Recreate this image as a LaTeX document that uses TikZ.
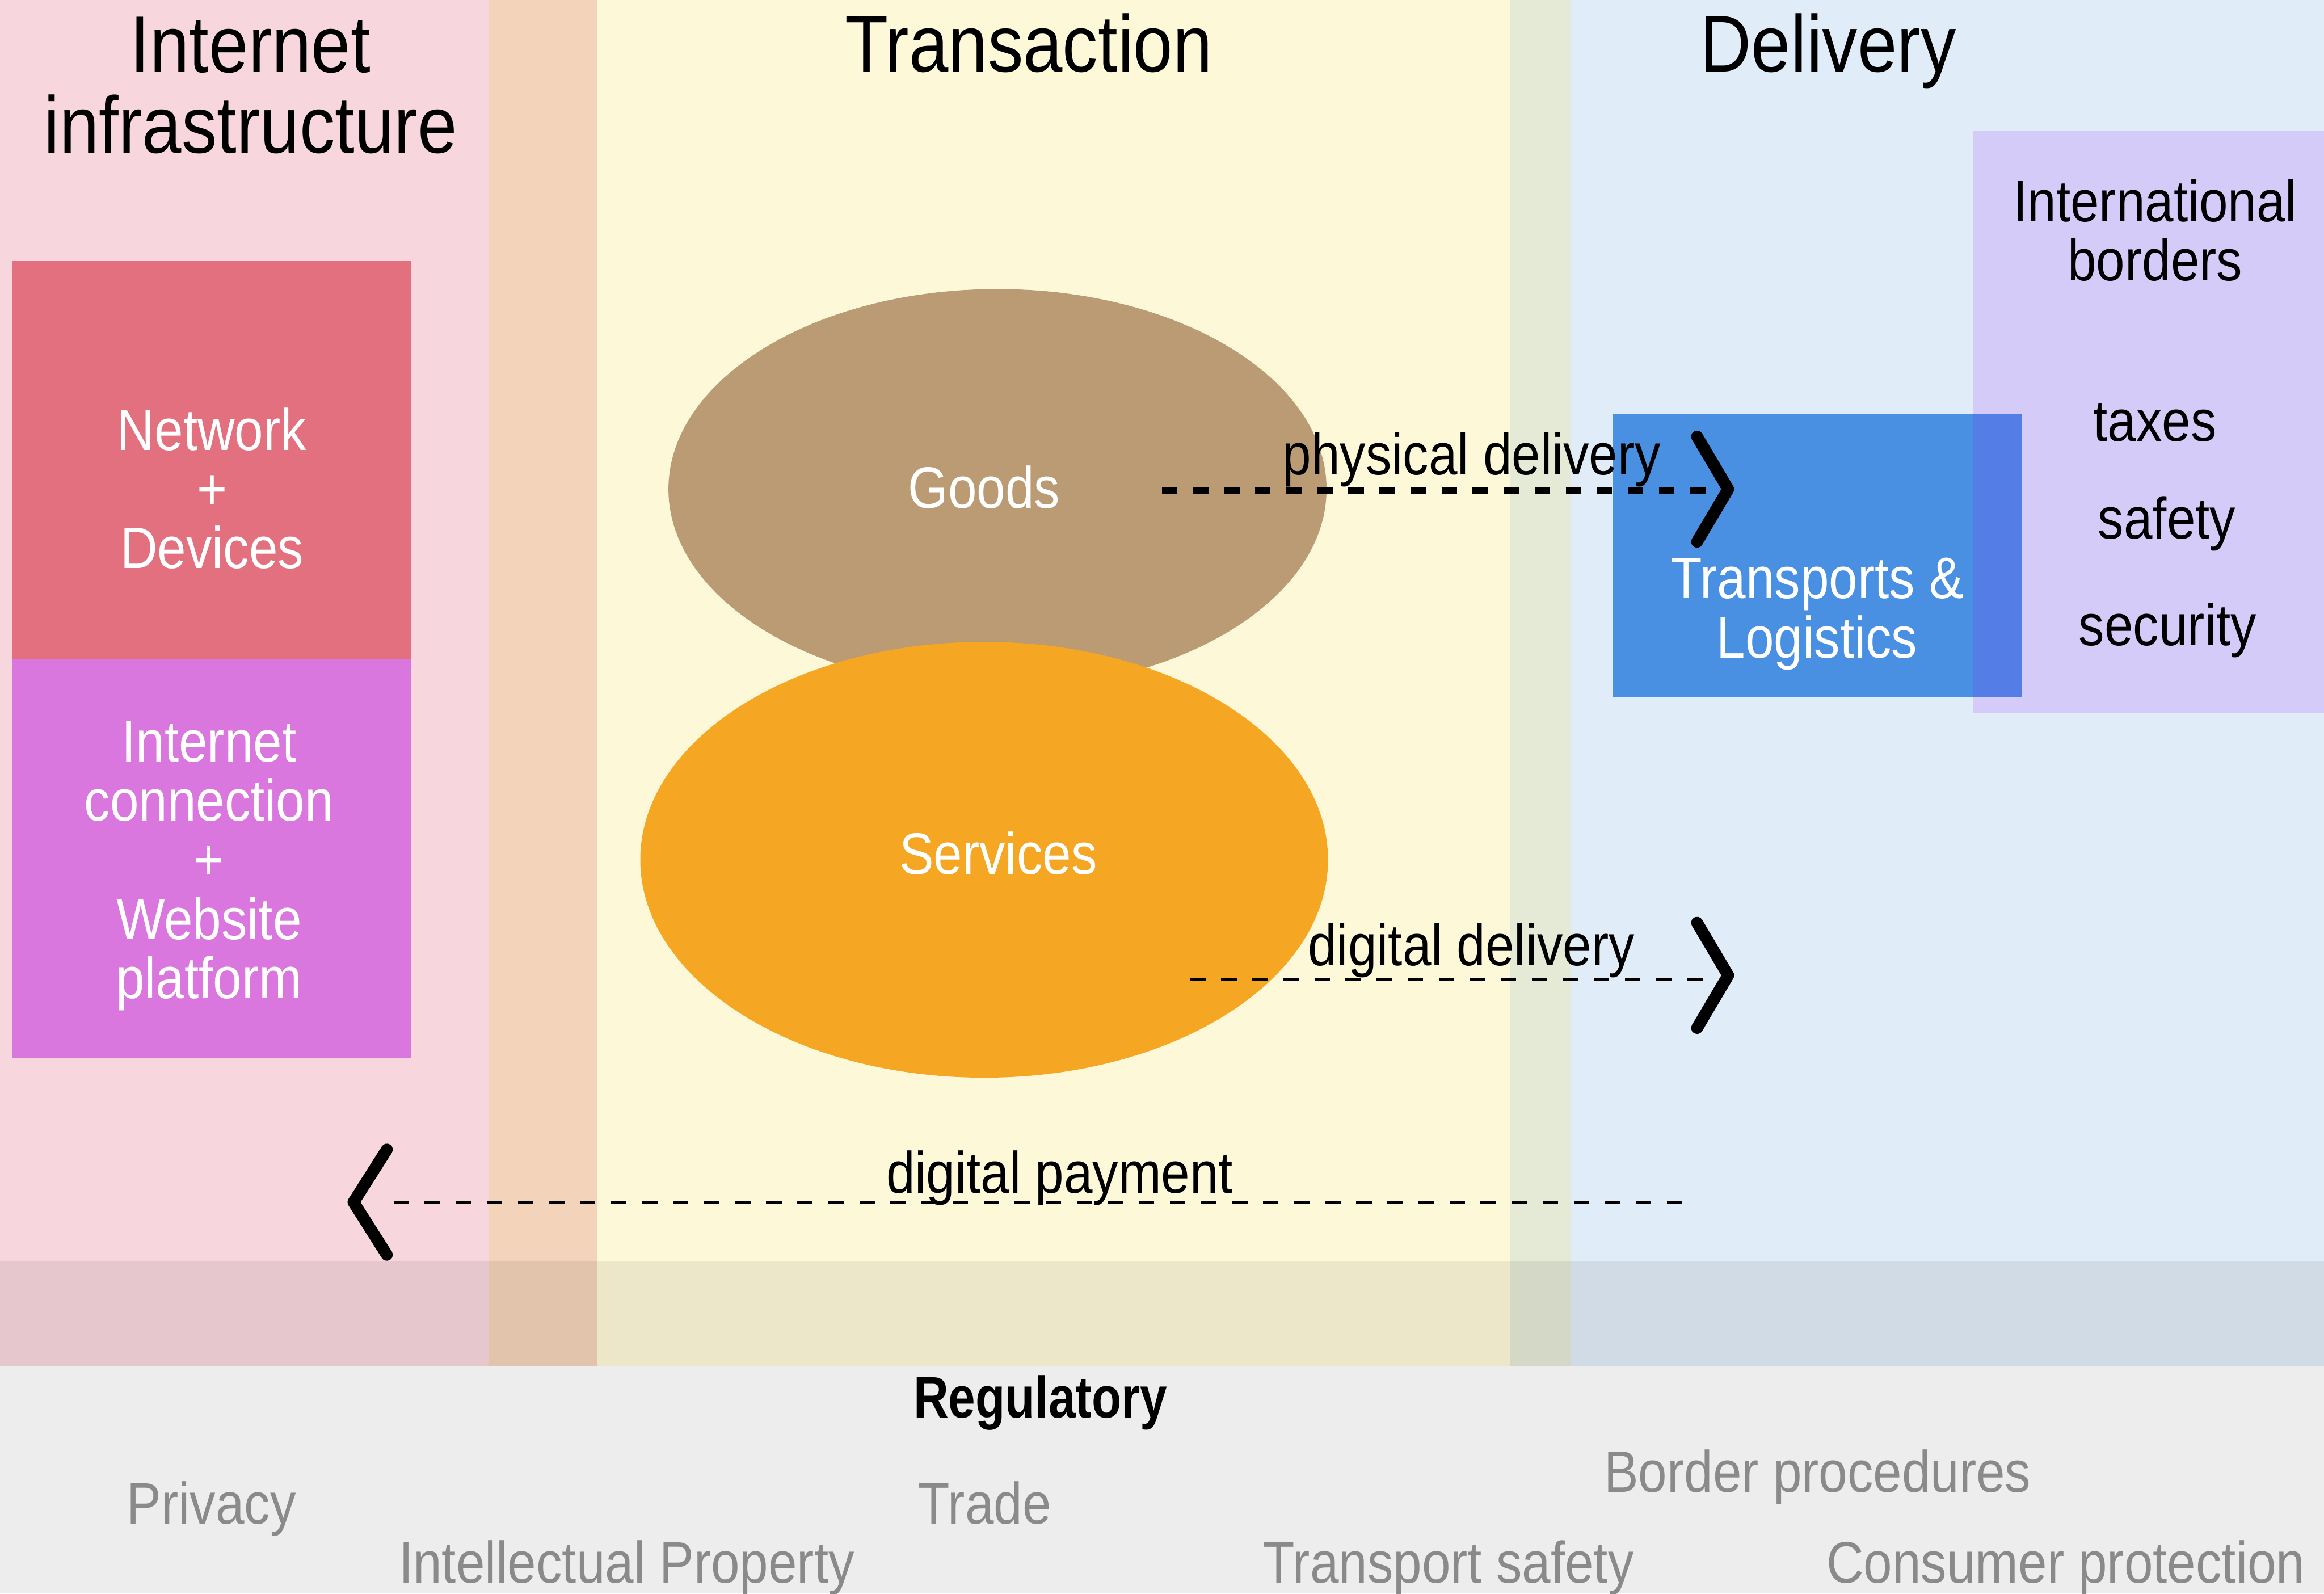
\documentclass[tikz,border=0pt]{standalone}
\usepackage{fontspec}
\setmainfont{Liberation Sans}[FakeStretch=0.88,BoldFeatures={FakeStretch=0.83}]
\definecolor{infracol}{RGB}{247,215,221}
\definecolor{infratrans}{RGB}{244,211,187}
\definecolor{transcol}{RGB}{253,249,216}
\definecolor{transdeliv}{RGB}{228,234,214}
\definecolor{delivcol}{RGB}{224,236,248}
\definecolor{netcol}{RGB}{227,112,127}
\definecolor{webcol}{RGB}{218,119,222}
\definecolor{goodscol}{RGB}{187,155,115}
\definecolor{servcol}{RGB}{245,166,35}
\definecolor{logicol}{RGB}{74,144,226}
\definecolor{bordercol}{RGB}{144,19,254}
\definecolor{regcol}{gray}{0.54}
\tikzset{
  head/.style={font=\fontsize{38.6}{38.8}\selectfont,align=center,anchor=base},
  txt/.style={font=\fontsize{28.1}{28.4}\selectfont,align=center,anchor=base},
  wtxt/.style={txt,text=white},
  regtxt/.style={txt,text=regcol},
  flow/.style={dash pattern=on 7.4pt off 7.5pt,line width=1.4pt},
  thickflow/.style={flow,line width=2.8pt},
  chev/.style={line width=5.7pt,line cap=round,line join=round},
}

\begin{document}
\begin{tikzpicture}[x=0.025cm,y=0.025cm]
  \useasboundingbox (0,0) rectangle (1568,-1075);
  \fill[white] (0,0) rectangle (1568,-1075);
  % columns
  \fill[infracol] (0,0) rectangle (330,-922);
  \fill[infratrans] (330,0) rectangle (403,-922);
  \fill[transcol] (403,0) rectangle (1019,-922);
  \fill[transdeliv] (1019,0) rectangle (1060,-922);
  \fill[delivcol] (1060,0) rectangle (1568,-922);
  \fill[black,fill opacity=0.07] (0,-851) rectangle (1568,-1075);
  % internet infrastructure
  \fill[netcol] (8,-176) rectangle (277,-445);
  \fill[webcol] (8,-445) rectangle (277,-714);
  % transaction
  \fill[goodscol] (673,-330) ellipse (222 and 135);
  \fill[servcol] (664,-580) ellipse (232 and 147);
  % delivery
  \fill[logicol] (1088,-279) rectangle (1364,-470);
  \fill[bordercol,fill opacity=0.15] (1331,-88) rectangle (1568,-481);

  \coordinate (phys-from) at (784,-331);
  \coordinate (phys-to) at (1152,-331);
  \coordinate (phys-tip) at (1166,-330);
  \coordinate (dig-from) at (803,-661);
  \coordinate (dig-to) at (1150,-661);
  \coordinate (dig-tip) at (1166,-658);
  \coordinate (pay-from) at (1135,-811);
  \coordinate (pay-to) at (266,-811);
  \coordinate (pay-tip) at (238.5,-811);

  \draw[thickflow] (phys-from) -- (phys-to);
  \draw[chev] ([shift={(-21,35.5)}]phys-tip) -- (phys-tip) -- ([shift={(-21,-35.5)}]phys-tip);
  \draw[flow] (dig-from) -- (dig-to);
  \draw[chev] ([shift={(-21,35.5)}]dig-tip) -- (dig-tip) -- ([shift={(-21,-35.5)}]dig-tip);
  \draw[flow] (pay-from) -- (pay-to);
  \draw[chev] ([shift={(22.5,35.5)}]pay-tip) -- (pay-tip) -- ([shift={(22.5,-35.5)}]pay-tip);

  % multi-line nodes sit on the baseline of their last line
  \node[head] (infra-title) at (169,-103.3) {Internet\\infrastructure};
  \node[head] (trans-title) at (694,-48.5) {Transaction};
  \node[head] (deliv-title) at (1233.5,-48.5) {Delivery};

  \node[wtxt] (net-lbl) at (143,-383.5) {Network\\+\\Devices};
  \node[wtxt] (web-lbl) at (141,-673.5) {Internet\\connection\\+\\Website\\platform};
  \node[wtxt] (goods-lbl) at (664,-342.7) {Goods};
  \node[wtxt] (serv-lbl) at (673.5,-589.9) {Services};
  \node[wtxt] (logi-lbl) at (1226,-443.8) {Transports \&\\Logistics};

  \node[txt] (border-lbl) at (1454,-189.3) {International\\borders};
  \node[txt] (tax-lbl) at (1454,-297.7) {taxes};
  \node[txt] (safety-lbl) at (1462,-363.4) {safety};
  \node[txt] (security-lbl) at (1462.5,-435.3) {security};

  \node[txt] (phys-lbl) at (993,-320.4) {physical delivery};
  \node[txt] (dig-lbl) at (992.7,-651.3) {digital delivery};
  \node[txt] (pay-lbl) at (715,-805) {digital payment};

  \node[txt,font=\fontsize{28.1}{28.4}\selectfont\bfseries] (reg-lbl) at (702,-956.6) {Regulatory};
  \node[regtxt] (privacy-lbl) at (142.7,-1028) {Privacy};
  \node[regtxt] (trade-lbl) at (664.4,-1028) {Trade};
  \node[regtxt] (bproc-lbl) at (1226.3,-1006.7) {Border procedures};
  \node[regtxt] (ip-lbl) at (422.8,-1068) {Intellectual Property};
  \node[regtxt] (tsafety-lbl) at (977.4,-1068) {Transport safety};
  \node[regtxt] (consumer-lbl) at (1393.8,-1068) {Consumer protection};
\end{tikzpicture}
\end{document}
